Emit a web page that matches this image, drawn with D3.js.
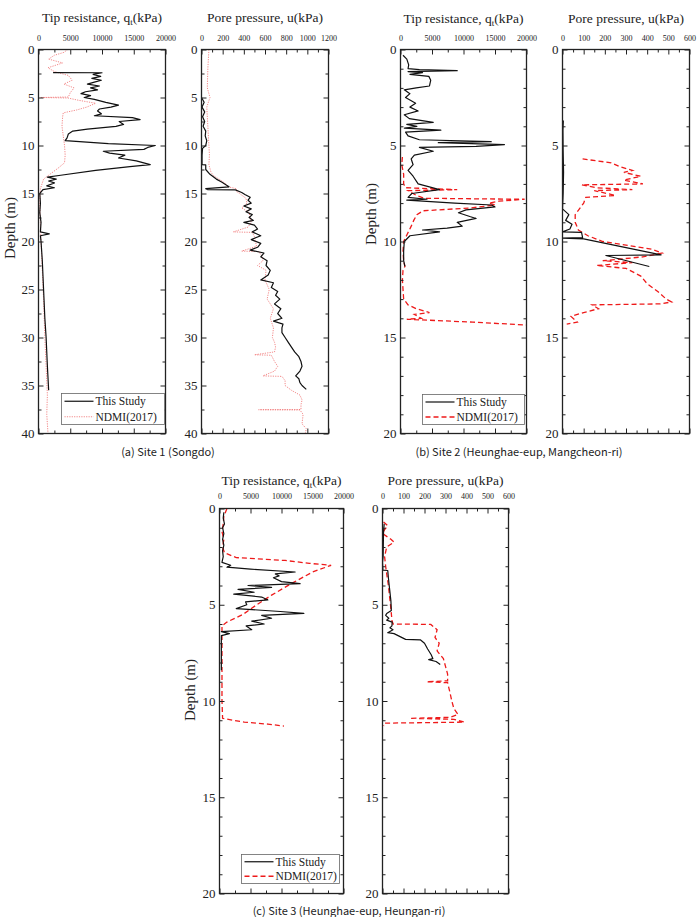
<!DOCTYPE html>
<html>
<head>
<meta charset="utf-8">
<script src="https://cdn.jsdelivr.net/npm/d3@7/dist/d3.min.js"></script>
<style>
  body { margin: 0; background: #fff; }
  svg { display: block; }
</style>
</head>
<body>
<div id="chart"></div>
<script>
"use strict";

// [depth (m), value (kPa)]
const site1TipStudy = [
  [2.4, 2300], [2.42, 10000], [2.6, 8600], [2.8, 9800], [3.0, 8400], [3.2, 9900], [3.4, 8800],
  [3.6, 7700], [3.8, 9600], [4.0, 8200], [4.2, 9300], [4.4, 7400], [4.6, 6700], [4.8, 8200],
  [5.0, 7200], [5.2, 8800], [5.5, 10600], [5.8, 12600], [6.0, 11400], [6.2, 9600], [6.4, 9300],
  [6.7, 9900], [6.9, 8800], [7.1, 14800], [7.3, 16000], [7.5, 12700], [7.8, 13400], [8.0, 12200],
  [8.3, 7700], [8.5, 5400], [8.8, 4700], [9.2, 4500], [9.5, 4200], [9.8, 11000], [10.0, 18400],
  [10.2, 17200], [10.4, 16600], [10.6, 10200], [10.8, 11200], [11.0, 13600], [11.3, 12600],
  [11.6, 15400], [12.0, 17600], [12.2, 14400], [12.6, 9000], [13.1, 3500], [13.3, 1400],
  [13.5, 2800], [13.7, 1600], [13.9, 2500], [14.2, 1300], [14.4, 2500], [14.6, 700], [15.0, 200],
  [16, 300], [17, 200], [18, 400], [19.0, 300], [19.2, 1700], [19.4, 300], [20, 400], [22, 600],
  [25, 800], [28, 1000], [30, 1200], [33, 1400], [35.5, 1600]
];
const site1TipNdmi = [
  [0, 4600], [0.3, 4000], [0.6, 2500], [1.0, 1600], [1.4, 3800], [1.9, 1500], [2.3, 2500],
  [2.7, 4700], [3.2, 5300], [3.6, 4000], [4.0, 5600], [4.5, 5000], [4.95, 4700], [5.0, 300],
  [5.05, 4600], [5.3, 6400], [5.6, 9000], [6.0, 7600], [6.3, 6000], [6.6, 3900], [7, 3800],
  [8, 3700], [9, 3900], [10, 4100], [11, 4200], [11.8, 4100], [12.3, 3200], [13.0, 1800],
  [13.5, 800], [14.5, 300], [16, 200], [18, 300], [20, 400], [23, 600], [26, 800], [30, 1000],
  [33, 1200], [36, 1400], [38, 1300], [40, 1500]
];
const site1PoreStudy = [
  [5.0, 0], [5.5, 25], [6.0, 5], [6.5, 30], [7.0, 10], [7.5, 30], [8.0, 15], [8.5, 40], [9.0, 35],
  [9.5, 50], [10.0, 40], [10.3, 10], [11.0, 5], [12.0, 5], [12.02, 40], [12.5, 40], [13.0, 80],
  [13.5, 140], [13.8, 190], [14.1, 230], [14.3, 260], [14.5, 40], [14.6, 60], [14.62, 320],
  [14.9, 380], [15.1, 410], [15.4, 460], [15.7, 440], [16.0, 470], [16.3, 400], [16.6, 470],
  [16.9, 420], [17.2, 480], [17.5, 450], [17.8, 490], [18.0, 400], [18.3, 500], [18.7, 530],
  [19.0, 480], [19.4, 560], [19.8, 470], [20.2, 560], [20.6, 530], [20.9, 460], [21.2, 590],
  [21.6, 560], [22.0, 620], [22.5, 610], [23.0, 650], [23.5, 630], [24.0, 560], [24.3, 680],
  [24.8, 660], [25.2, 720], [25.6, 700], [26.0, 740], [26.5, 690], [27.0, 750], [27.5, 720],
  [28.0, 760], [28.3, 680], [28.6, 770], [29.0, 760], [29.5, 760], [30.0, 790], [30.5, 820],
  [31.0, 850], [31.5, 880], [32.0, 920], [32.5, 940], [33.0, 950], [33.5, 930], [34.0, 890],
  [34.3, 920], [34.7, 930], [35.0, 950], [35.4, 990]
];
const site1PoreNdmi = [
  [0, 70], [2, 60], [4, 55], [5, 80], [6, 50], [8, 60], [10, 70], [11, 75], [12, 70], [12.8, 90],
  [13.2, 120], [13.6, 180], [14.0, 230], [14.3, 250], [14.5, 330], [14.8, 330], [15, 360],
  [15.5, 420], [16, 430], [16.5, 380], [17, 450], [17.5, 460], [18, 470], [18.5, 440], [19, 300],
  [19.05, 480], [19.5, 500], [20, 510], [20.5, 520], [21, 380], [21.05, 540], [21.5, 570],
  [22, 580], [22.5, 530], [23, 610], [24, 600], [25, 640], [26, 620], [27, 680], [28, 650],
  [29, 680], [30, 670], [30.5, 690], [31, 700], [31.5, 690], [31.8, 500], [31.85, 660],
  [32.5, 690], [33, 720], [33.5, 690], [34, 580], [34.05, 760], [34.5, 790], [35, 790],
  [35.5, 850], [36, 930], [36.5, 950], [37, 940], [37.5, 940], [37.52, 540], [37.55, 930],
  [38, 960], [39, 950], [39.5, 990], [40, 980]
];

const site2TipStudy = [
  [0.3, 400], [0.5, 1000], [0.8, 1300], [1.0, 1200], [1.05, 3000], [1.1, 9000], [1.15, 1200],
  [1.2, 3500], [1.3, 1500], [1.4, 4500], [1.6, 4800], [1.9, 4600], [2.0, 2500], [2.1, 600],
  [2.3, 1500], [2.5, 800], [2.8, 2400], [3.0, 1500], [3.2, 2800], [3.4, 600], [3.6, 1400],
  [3.8, 5200], [3.9, 1000], [4.0, 2600], [4.1, 600], [4.2, 6400], [4.3, 800], [4.5, 1200],
  [4.7, 3000], [4.8, 14400], [4.85, 6000], [4.95, 16500], [5.05, 12000], [5.1, 3000],
  [5.3, 5200], [5.5, 2200], [5.7, 1700], [6.0, 2000], [6.3, 1200], [6.6, 2000], [7.0, 2800],
  [7.3, 6200], [7.5, 1800], [7.7, 1200], [7.8, 4200], [7.85, 1000], [8.0, 8600], [8.1, 14500],
  [8.2, 15000], [8.35, 10400], [8.5, 9200], [8.7, 11000], [8.8, 12000], [9.0, 9000],
  [9.2, 9800], [9.3, 7400], [9.4, 3500], [9.5, 6200], [9.7, 1500], [10.0, 600], [10.5, 500],
  [11.0, 500], [11.3, 700]
];
const site2TipNdmi = [
  [5.6, 300], [6.0, 200], [6.5, 500], [7.0, 500], [7.2, 800], [7.3, 9000], [7.35, 1200],
  [7.6, 2500], [7.75, 3800], [7.8, 19700], [7.9, 15600], [8.0, 14000], [8.1, 15000],
  [8.25, 11200], [8.4, 3600], [8.6, 2600], [8.9, 2100], [9.2, 1700], [9.6, 1100], [10.0, 500],
  [10.5, 400], [11.0, 500], [11.3, 700], [11.5, 400], [12.0, 300], [12.5, 400], [13.0, 500],
  [13.3, 1200], [13.5, 2500], [13.7, 4600], [13.8, 2200], [14.0, 3300], [14.05, 1000],
  [14.2, 11500], [14.35, 20000]
];
const site2PoreStudy = [
  [3.7, 4], [4.2, 2], [5.3, 3], [6.4, 5], [7.5, 3], [8.3, 0], [8.6, 30], [8.9, 15], [9.1, 45],
  [9.35, 35], [9.5, 0], [9.52, 90], [9.8, 95], [9.82, 0], [9.86, 100], [10.7, 466],
  [10.73, 205], [11.3, 410]
];
const site2PoreNdmi = [
  [5.7, 95], [5.9, 230], [6.1, 270], [6.3, 330], [6.4, 290], [6.6, 370], [6.8, 290], [7.0, 380],
  [7.05, 90], [7.2, 160], [7.3, 330], [7.35, 150], [7.6, 250], [7.7, 110], [8.0, 100],
  [8.3, 80], [8.6, 60], [9.0, 60], [9.4, 75], [9.7, 120], [10.0, 190], [10.4, 420], [10.6, 470],
  [10.8, 380], [11.0, 190], [11.1, 330], [11.25, 160], [11.4, 300], [11.8, 370], [12.2, 400],
  [12.6, 450], [13.0, 490], [13.15, 515], [13.25, 460], [13.3, 140], [13.5, 170], [13.7, 100],
  [13.9, 40], [14.2, 70], [14.3, 20]
];

const site3TipStudy = [
  [0.2, 700], [0.5, 600], [0.8, 800], [1.0, 500], [1.3, 700], [1.6, 500], [1.9, 700], [2.2, 500],
  [2.5, 600], [2.8, 400], [2.95, 1800], [3.05, 1200], [3.15, 5000], [3.3, 12200], [3.4, 9000],
  [3.5, 9600], [3.6, 8700], [3.8, 10000], [3.9, 13000], [4.0, 4600], [4.1, 8400], [4.2, 3000],
  [4.35, 5600], [4.45, 2300], [4.6, 6800], [4.75, 7800], [4.85, 4200], [5.0, 4400], [5.2, 2700],
  [5.35, 9800], [5.45, 13600], [5.55, 6800], [5.7, 8400], [5.85, 5200], [6.0, 7200], [6.1, 4300],
  [6.3, 5200], [6.4, 300], [6.5, 1600], [6.6, 300], [7.0, 300], [8.0, 300], [8.4, 300]
];
const site3TipNdmi = [
  [0, 1200], [0.4, 700], [0.8, 600], [1.2, 400], [1.6, 700], [2.0, 500], [2.3, 800], [2.55, 2700],
  [2.7, 10600], [2.85, 14500], [2.95, 18000], [3.3, 15000], [3.9, 11600], [4.5, 8400],
  [5.0, 6000], [5.5, 3800], [5.9, 1200], [6.1, 400], [7, 400], [8, 400], [9, 400], [10, 400],
  [10.9, 500], [11.0, 2200], [11.1, 4000], [11.2, 7800], [11.3, 10400]
];
const site3PoreStudy = [
  [0.8, 8], [1.2, 5], [1.8, 4], [2.5, 3], [2.8, 0], [3.2, 2], [3.22, 25], [3.6, 28], [4.2, 34],
  [4.8, 40], [5.3, 42], [5.45, 20], [5.55, 15], [5.7, 30], [5.8, 20], [5.9, 46], [6.1, 45],
  [6.2, 35], [6.3, 50], [6.45, 25], [6.5, 55], [6.8, 110], [6.82, 180], [7.0, 200], [7.3, 215],
  [7.6, 232], [7.8, 240], [7.85, 220], [7.95, 255], [8.1, 275]
];
const site3PoreNdmi = [
  [0.7, 5], [0.9, 25], [1.1, 10], [1.3, 0], [1.6, 40], [1.75, 55], [2.0, 20], [2.5, 10],
  [3.0, 15], [4.0, 28], [5.0, 38], [5.8, 45], [6.0, 50], [6.02, 230], [6.3, 260], [6.7, 250],
  [7.0, 270], [7.4, 260], [7.8, 290], [8.2, 300], [8.6, 310], [8.95, 310], [9.0, 210],
  [9.05, 310], [9.5, 320], [10.0, 330], [10.4, 340], [10.7, 360], [10.85, 320], [10.9, 130],
  [10.95, 340], [11.1, 390], [11.15, 10], [11.3, 5]
];

// tick labels
const tipTicks = [0, 5000, 10000, 15000, 20000];
const pore1Ticks = [0, 200, 400, 600, 800, 1000, 1200];
const pore2Ticks = [0, 100, 200, 300, 400, 500, 600];
const depth40Ticks = [0, 5, 10, 15, 20, 25, 30, 35, 40];
const depth20Ticks = [0, 5, 10, 15, 20];
const legendNames = ["This Study", "NDMI(2017)"];
const captions = [
  "(a) Site 1 (Songdo)",
  "(b) Site 2 (Heunghae-eup, Mangcheon-ri)",
  "(c) Site 3 (Heunghae-eup, Heungan-ri)"
];

const W = 697, H = 917;
const serif = "'Liberation Serif', 'Times New Roman', serif";
const studyColor = "#111";
const dottedColor = "#f07a7a";
const dashedColor = "#ee1a1a";

const svg = d3.select("#chart").append("svg")
  .attr("width", W).attr("height", H)
  .attr("viewBox", `0 0 ${W} ${H}`);

const panels = [
  { x0: 38.5, x1: 165.5, y0: 49.5, y1: 433.5, xMax: 20000, xTicks: tipTicks, xMinor: 2500,
    yMax: 40, yTicks: depth40Ticks, yMinor: 2.5, kind: "tip", titleDy: -28, labelDy: -9,
    study: site1TipStudy, ndmi: site1TipNdmi, ndmiStyle: "dotted",
    legend: { x: 61.5, y: 393.5, w: 103, h: 31 }, depth: { x: 12, y: 228 } },
  { x0: 201.5, x1: 328.5, y0: 49.5, y1: 433.5, xMax: 1200, xTicks: pore1Ticks, xMinor: 100,
    yMax: 40, yTicks: depth40Ticks, yMinor: 2.5, kind: "pore", titleDy: -28, labelDy: -9,
    study: site1PoreStudy, ndmi: site1PoreNdmi, ndmiStyle: "dotted" },
  { x0: 400.5, x1: 526.5, y0: 49.5, y1: 433.5, xMax: 20000, xTicks: tipTicks, xMinor: 2500,
    yMax: 20, yTicks: depth20Ticks, yMinor: 1, kind: "tip", titleDy: -27, labelDy: -9,
    study: site2TipStudy, ndmi: site2TipNdmi, ndmiStyle: "dashed",
    legend: { x: 422.5, y: 394.5, w: 102, h: 30 }, depth: { x: 373, y: 214 } },
  { x0: 562.5, x1: 689.5, y0: 49.5, y1: 433.5, xMax: 600, xTicks: pore2Ticks, xMinor: 50,
    yMax: 20, yTicks: depth20Ticks, yMinor: 1, kind: "pore", titleDy: -27, labelDy: -9,
    study: site2PoreStudy, ndmi: site2PoreNdmi, ndmiStyle: "dashed" },
  { x0: 219.5, x1: 343.5, y0: 508.5, y1: 893.5, xMax: 20000, xTicks: tipTicks, xMinor: 2500,
    yMax: 20, yTicks: depth20Ticks, yMinor: 1, kind: "tip", titleDy: -24, labelDy: -10,
    study: site3TipStudy, ndmi: site3TipNdmi, ndmiStyle: "dashed",
    legend: { x: 241.5, y: 854.5, w: 98, h: 29 }, depth: { x: 192, y: 690 } },
  { x0: 382.5, x1: 508.5, y0: 508.5, y1: 893.5, xMax: 600, xTicks: pore2Ticks, xMinor: 50,
    yMax: 20, yTicks: depth20Ticks, yMinor: 1, kind: "pore", titleDy: -24, labelDy: -10,
    study: site3PoreStudy, ndmi: site3PoreNdmi, ndmiStyle: "dashed" }
];

function ndmiStroke(sel, style) {
  if (style === "dotted") {
    sel.attr("stroke", dottedColor).attr("stroke-width", 0.9).attr("stroke-dasharray", "1.2,1.2");
  } else {
    sel.attr("stroke", dashedColor).attr("stroke-width", 1.3).attr("stroke-dasharray", "5,3");
  }
}

function styleAxis(axis) {
  axis.select(".domain").remove();
  axis.selectAll("line").attr("stroke", "#222").attr("stroke-width", 1);
}

function drawPanel(p) {
  const g = svg.append("g");
  const x = d3.scaleLinear().domain([0, p.xMax]).range([p.x0, p.x1]);
  const y = d3.scaleLinear().domain([0, p.yMax]).range([p.y0, p.y1]);
  const xMinor = d3.range(0, p.xMax + 1e-6, p.xMinor).filter((v) => !p.xTicks.includes(v));
  const yMinor = d3.range(0, p.yMax + 1e-6, p.yMinor).filter((v) => !p.yTicks.includes(v));

  const clipId = `clip-${p.x0}-${p.y0}`;
  g.append("clipPath").attr("id", clipId).append("rect")
    .attr("x", p.x0).attr("y", p.y0).attr("width", p.x1 - p.x0).attr("height", p.y1 - p.y0);

  const line = d3.line().x((d) => x(d[1])).y((d) => y(d[0]));
  const plot = g.append("g").attr("clip-path", `url(#${clipId})`);

  plot.append("path").datum(p.ndmi)
    .attr("fill", "none").attr("d", line)
    .call(ndmiStroke, p.ndmiStyle);
  plot.append("path").datum(p.study)
    .attr("fill", "none").attr("stroke", studyColor).attr("stroke-width", 1.2)
    .attr("stroke-linejoin", "round").attr("d", line);

  // top axis with labels, inward ticks
  g.append("g").attr("transform", `translate(0,${p.y0})`)
    .call(d3.axisTop(x).tickValues(p.xTicks).tickSize(-5).tickPadding(-p.labelDy).tickFormat(d3.format("d")))
    .call(styleAxis)
    .call((a) => a.selectAll("text").attr("font-family", serif).attr("font-size", 8).attr("fill", "#222"));
  g.append("g").attr("transform", `translate(0,${p.y0})`)
    .call(d3.axisTop(x).tickValues(xMinor).tickSize(-3).tickFormat(""))
    .call(styleAxis);
  g.append("g").attr("transform", `translate(0,${p.y1})`)
    .call(d3.axisBottom(x).tickValues(p.xTicks).tickSize(-5).tickFormat(""))
    .call(styleAxis);
  g.append("g").attr("transform", `translate(0,${p.y1})`)
    .call(d3.axisBottom(x).tickValues(xMinor).tickSize(-3).tickFormat(""))
    .call(styleAxis);

  g.append("g").attr("transform", `translate(${p.x0},0)`)
    .call(d3.axisLeft(y).tickValues(p.yTicks).tickSize(-5).tickPadding(4).tickFormat(d3.format("d")))
    .call(styleAxis)
    .call((a) => a.selectAll("text").attr("font-family", serif).attr("font-size", 13).attr("fill", "#222"));
  g.append("g").attr("transform", `translate(${p.x0},0)`)
    .call(d3.axisLeft(y).tickValues(yMinor).tickSize(-3).tickFormat(""))
    .call(styleAxis);
  g.append("g").attr("transform", `translate(${p.x1},0)`)
    .call(d3.axisRight(y).tickValues(p.yTicks).tickSize(-5).tickFormat(""))
    .call(styleAxis);
  g.append("g").attr("transform", `translate(${p.x1},0)`)
    .call(d3.axisRight(y).tickValues(yMinor).tickSize(-3).tickFormat(""))
    .call(styleAxis);

  g.append("rect")
    .attr("x", p.x0).attr("y", p.y0).attr("width", p.x1 - p.x0).attr("height", p.y1 - p.y0)
    .attr("fill", "none").attr("stroke", "#222").attr("stroke-width", 1.3);

  // title
  const title = g.append("text")
    .attr("x", (p.x0 + p.x1) / 2).attr("y", p.y0 + p.titleDy)
    .attr("text-anchor", "middle").attr("font-family", serif).attr("font-size", 13.5).attr("fill", "#222");
  if (p.kind === "tip") {
    title.append("tspan").text("Tip resistance, q");
    title.append("tspan").attr("font-size", 9).attr("dy", 3).text("t");
    title.append("tspan").attr("dy", -3).text("(kPa)");
  } else {
    title.text("Pore pressure, u(kPa)");
  }

  if (p.depth) {
    g.append("text")
      .attr("transform", `translate(${p.depth.x},${p.depth.y}) rotate(-90)`)
      .attr("text-anchor", "middle").attr("dominant-baseline", "middle")
      .attr("font-family", serif).attr("font-size", 15).attr("fill", "#222")
      .text("Depth (m)");
  }

  if (p.legend) {
    const L = p.legend;
    const lg = g.append("g");
    lg.append("rect").attr("x", L.x).attr("y", L.y).attr("width", L.w).attr("height", L.h)
      .attr("fill", "#fff").attr("stroke", "#666").attr("stroke-width", 0.8);
    const rows = [L.y + L.h * 0.25, L.y + L.h * 0.75];
    lg.append("line").attr("x1", L.x + 3).attr("x2", L.x + 32).attr("y1", rows[0]).attr("y2", rows[0])
      .attr("stroke", studyColor).attr("stroke-width", 1.2);
    lg.append("line").attr("x1", L.x + 3).attr("x2", L.x + 32).attr("y1", rows[1]).attr("y2", rows[1])
      .call(ndmiStroke, p.ndmiStyle);
    legendNames.forEach((name, i) => {
      lg.append("text").attr("x", L.x + 34).attr("y", rows[i]).attr("dy", "0.35em")
        .attr("font-family", serif).attr("font-size", 11.5).attr("fill", "#222").text(name);
    });
  }
}

panels.forEach(drawPanel);

const captionPos = [[168, 456], [519, 456], [349, 915]];
captions.forEach((c, i) => {
  svg.append("text")
    .attr("x", captionPos[i][0]).attr("y", captionPos[i][1])
    .attr("text-anchor", "middle")
    .attr("font-family", "'Noto Sans CJK KR', 'Noto Sans', sans-serif")
    .attr("font-size", 11).attr("fill", "#222")
    .text(c);
});
</script>
</body>
</html>
